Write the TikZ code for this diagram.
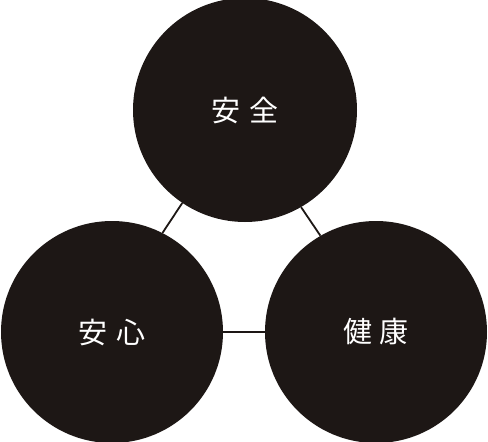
\documentclass[tikz,border=0pt]{standalone}
\usepackage{fontspec}
\newfontfamily\cjk{Noto Sans CJK JP}
\definecolor{disc}{RGB}{29,23,21}
\begin{document}
\begin{tikzpicture}[x=1pt,y=-1pt,
  disk/.style={circle,fill=disc,minimum size=224pt,inner sep=0pt,text=white,font=\cjk\fontsize{29}{29}\selectfont},
  link/.style={draw=disc,line width=1.8pt}]
\useasboundingbox (0,0) rectangle (488,442);
\node[disk] (a) at (245,110) {安\hspace{10pt}全};
\node[disk,minimum size=222pt] (b) at (112,332) {安\hspace{10pt}心};
\node[disk,minimum size=222pt] (c) at (376,332) {健\hspace{7pt}康};
\draw[link] (a.236) -- (b.63);
\draw[link] (a.300) -- (c.120);
\draw[link] (b.0) -- (c.180);
\end{tikzpicture}
\end{document}
